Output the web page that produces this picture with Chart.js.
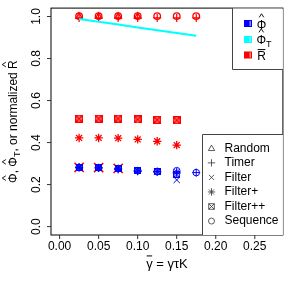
<!DOCTYPE html>
<html><head><meta charset="utf-8">
<script src="https://cdn.jsdelivr.net/npm/chart.js@4/dist/chart.umd.min.js"></script>
<style>html,body{margin:0;padding:0;background:#fff;overflow:hidden}</style>
</head><body>
<canvas id="c" width="291" height="283"></canvas>
<script>
// ---- data ----
const gammaBar = [0.025, 0.05, 0.075, 0.1, 0.125, 0.15, 0.175];
const xTicks = [0, 0.05, 0.10, 0.15, 0.20, 0.25];
const yTicks = [0, 0.2, 0.4, 0.6, 0.8, 1.0];
const xTickLabels = ["0.00", "0.05", "0.10", "0.15", "0.20", "0.25"];
const yTickLabels = ["0.0", "0.2", "0.4", "0.6", "0.8", "1.0"];
// normalized R-bar (red)
const rRandom      = [1.000, 1.000, 1.000, 1.000, null, null, null];
const rTimer       = [0.993, 0.993, 0.993, 0.993, 0.993, 0.993, 0.993];
const rFilter      = [0.282, 0.281, 0.277, null, null, null, null];
const rFilterP     = [0.422, 0.422, 0.421, 0.415, 0.406, 0.388, null];
const rFilterPP    = [0.514, 0.514, 0.514, 0.510, 0.508, 0.506, null];
const rSequence    = [1.002, 1.002, 1.002, 1.002, 1.002, 1.002, 1.002];
// Phi-hat (blue)
const pRandom      = [0.282, 0.280, 0.276, 0.265, null, null, null];
const pTimer       = [0.281, 0.279, 0.272, 0.263, 0.260, 0.255, 0.257];
const pFilter      = [0.282, 0.280, 0.276, null, null, 0.222, null];
const pFilterP     = [0.282, 0.280, 0.276, 0.265, 0.262, 0.260, null];
const pFilterPP    = [0.282, 0.280, 0.275, 0.265, 0.260, 0.250, null];
const pSequence    = [0.282, 0.280, 0.276, 0.266, 0.262, 0.266, 0.257];
// Phi-hat_T (cyan)
const pT           = [0.988, 0.975, 0.962, 0.948, 0.935, 0.921, 0.908];

const RED = '#ff0000', BLUE = '#0000ff', CYAN = '#00ffff';
const FONT = '"Liberation Sans", Arial, sans-serif';
const FS = 12;

function boxX(color, s, lw) {
  const c = document.createElement('canvas');
  c.width = s; c.height = s;
  const g = c.getContext('2d');
  g.strokeStyle = color; g.lineWidth = lw;
  g.strokeRect(lw/2, lw/2, s - lw, s - lw);
  g.beginPath();
  g.moveTo(0, 0); g.lineTo(s, s);
  g.moveTo(s, 0); g.lineTo(0, s);
  g.stroke();
  return c;
}

function ds(label, arr, color, style, radius, order, lw) {
  return {
    label,
    data: gammaBar.map((x, i) => arr[i] == null ? null : { x, y: arr[i] }).filter(Boolean),
    pointStyle: style, pointRadius: radius, pointHoverRadius: radius,
    borderColor: color, backgroundColor: 'rgba(0,0,0,0)',
    pointBorderWidth: lw || 1, borderWidth: lw || 1, showLine: false, order
  };
}

const datasets = [
  ds('R Filter', rFilter, RED, 'crossRot', 6.5, 9, 1.6),
  ds('R Filter+', rFilterP, RED, 'star', 4.2, 9, 1.3),
  ds('R Filter++', rFilterPP, RED, boxX(RED, 8, 1.6), 4, 9, 1),
  ds('R Random', rRandom, RED, 'triangle', 3.6, 9, 1.3),
  ds('R Timer', rTimer, RED, 'cross', 4, 9, 1.2),
  ds('R Sequence', rSequence, RED, 'circle', 3.3, 9, 1.3),
  { label: 'PhiT', data: gammaBar.map((x, i) => ({ x, y: pT[i] })), showLine: true,
    borderColor: CYAN, backgroundColor: CYAN, borderWidth: 2, pointRadius: 0, tension: 0, fill: false, order: 5 },
  ds('P Random', pRandom, BLUE, 'triangle', 3.5, 1, 1),
  ds('P Timer', pTimer, BLUE, 'cross', 4, 1, 1),
  ds('P Filter', pFilter, BLUE, 'crossRot', 4.5, 1, 1),
  ds('P Filter+', pFilterP, BLUE, 'star', 4, 1, 1),
  ds('P Filter++', pFilterPP, BLUE, boxX(BLUE, 7, 1), 3.5, 1, 1),
  ds('P Sequence', pSequence, BLUE, 'circle', 3.3, 1, 1),
];

function drawRich(ctx, segs, x, y, rot, size) {
  ctx.save();
  ctx.translate(x, y); ctx.rotate(rot);
  let total = 0;
  for (const s of segs) {
    ctx.font = (s.sub ? size * 0.75 : size) + 'px ' + FONT;
    s.w = ctx.measureText(s.t).width; total += s.w;
  }
  let cx = -total / 2;
  ctx.textBaseline = 'middle'; ctx.textAlign = 'left';
  for (const s of segs) {
    ctx.font = (s.sub ? size * 0.75 : size) + 'px ' + FONT;
    ctx.fillText(s.t, cx, s.sub ? size * 0.3 : 0);
    if (s.hat) {
      const m = cx + s.w / 2;
      ctx.beginPath(); ctx.lineWidth = 0.9;
      ctx.moveTo(m - 2.3, -size * 0.68); ctx.lineTo(m, -size * 0.98); ctx.lineTo(m + 2.3, -size * 0.68);
      ctx.stroke();
    }
    if (s.bar) {
      ctx.fillRect(cx + 0.5, -size * 0.66, s.w - 1, 1);
    }
    cx += s.w;
  }
  ctx.restore();
}

function sym(ctx, kind, x, y) {
  ctx.beginPath();
  const r = 3.2;
  if (kind === 'tri') { ctx.moveTo(x, y - r); ctx.lineTo(x + r, y + r * 0.7); ctx.lineTo(x - r, y + r * 0.7); ctx.closePath(); }
  if (kind === 'plus' || kind === 'star') { ctx.moveTo(x - r - 0.5, y); ctx.lineTo(x + r + 0.5, y); ctx.moveTo(x, y - r - 0.5); ctx.lineTo(x, y + r + 0.5); }
  if (kind === 'x' || kind === 'star') { ctx.moveTo(x - r * 0.8, y - r * 0.8); ctx.lineTo(x + r * 0.8, y + r * 0.8); ctx.moveTo(x + r * 0.8, y - r * 0.8); ctx.lineTo(x - r * 0.8, y + r * 0.8); }
  if (kind === 'boxx') { ctx.rect(x - 2.8, y - 2.8, 5.6, 5.6); ctx.moveTo(x - 2.8, y - 2.8); ctx.lineTo(x + 2.8, y + 2.8); ctx.moveTo(x + 2.8, y - 2.8); ctx.lineTo(x - 2.8, y + 2.8); }
  if (kind === 'circ') { ctx.arc(x, y, 3, 0, Math.PI * 2); }
  ctx.stroke();
}

const decor = {
  id: 'decor',
  afterDraw(chart) {
    const ctx = chart.ctx, a = chart.chartArea;
    const xs = chart.scales.x, ys = chart.scales.y;
    ctx.save();
    // plot box
    ctx.strokeStyle = '#000'; ctx.lineWidth = 1;
    ctx.strokeRect(a.left, a.top, a.right - a.left, a.bottom - a.top);
    // ticks
    ctx.strokeStyle = '#333';
    ctx.beginPath();
    xTicks.forEach(v => { const p = xs.getPixelForValue(v); ctx.moveTo(p, a.bottom); ctx.lineTo(p, a.bottom + 4); });
    yTicks.forEach(v => { const p = ys.getPixelForValue(v); ctx.moveTo(a.left, p); ctx.lineTo(a.left - 4, p); });
    ctx.stroke();
    ctx.fillStyle = '#000';
    ctx.font = FS + 'px ' + FONT;
    ctx.textAlign = 'center'; ctx.textBaseline = 'middle';
    xTicks.forEach((v, i) => ctx.fillText(xTickLabels[i], xs.getPixelForValue(v), 246.5));
    yTicks.forEach((v, i) => {
      ctx.save(); ctx.translate(36.5, ys.getPixelForValue(v)); ctx.rotate(-Math.PI / 2);
      ctx.fillText(yTickLabels[i], 0, 0); ctx.restore();
    });
    // axis titles
    ctx.strokeStyle = '#000';
    drawRich(ctx, [{ t: 'γ', bar: true }, { t: ' = γτK' }], (a.left + a.right) / 2, 264, 0, 13);
    drawRich(ctx, [{ t: 'Φ', hat: true }, { t: ', ' }, { t: 'Φ', hat: true }, { t: 'T', sub: true },
                   { t: ', or normalized ' }, { t: 'R', hat: true }], 14, (a.top + a.bottom) / 2, -Math.PI / 2, FS);
    // legend 1 (colours)
    ctx.fillStyle = '#fff';
    ctx.fillRect(232.5, a.top + 0.5, a.right - 232.5, 69.5 - a.top - 0.5);
    ctx.strokeStyle = '#444'; ctx.lineWidth = 1;
    ctx.beginPath(); ctx.moveTo(232.5, a.top); ctx.lineTo(232.5, 69.5); ctx.lineTo(a.right, 69.5); ctx.stroke();
    const l1 = [[BLUE, 23.5], [CYAN, 39.5], [RED, 55]];
    l1.forEach(([c, y]) => {
      ctx.fillStyle = c; ctx.fillRect(244, y - 3.5, 8, 7);
      ctx.fillStyle = 'rgba(255,255,255,0.55)'; ctx.fillRect(249.5, y - 2.5, 1.5, 5);
    });
    ctx.fillStyle = '#000'; ctx.strokeStyle = '#000';
    ctx.textAlign = 'left';
    drawRich(ctx, [{ t: 'Φ', hat: true }], 261.5, 25.5, 0, FS);
    drawRich(ctx, [{ t: 'Φ', hat: true }, { t: 'T', sub: true }], 264, 40.5, 0, FS);
    drawRich(ctx, [{ t: 'R', bar: true }], 261.5, 57, 0, FS);
    // legend 2 (methods)
    ctx.fillStyle = '#fff';
    ctx.fillRect(203, 135, a.right - 203, a.bottom - 135);
    ctx.strokeStyle = '#444';
    ctx.beginPath(); ctx.moveTo(202.5, a.bottom); ctx.lineTo(202.5, 134.5); ctx.lineTo(a.right, 134.5); ctx.stroke();
    const names = ['Random', 'Timer', 'Filter', 'Filter+', 'Filter++', 'Sequence'];
    const kinds = ['tri', 'plus', 'x', 'star', 'boxx', 'circ'];
    ctx.font = FS + 'px ' + FONT; ctx.textAlign = 'left'; ctx.textBaseline = 'middle';
    names.forEach((n, i) => {
      const y = 148.3 + i * 14.55;
      ctx.strokeStyle = '#333'; ctx.lineWidth = 0.8;
      sym(ctx, kinds[i], 211.5, y);
      ctx.fillStyle = '#000';
      ctx.fillText(n, 224.5, y);
    });
    ctx.restore();
  }
};

new Chart(document.getElementById('c'), {
  type: 'scatter',
  data: { datasets },
  options: {
    responsive: false, animation: false, devicePixelRatio: 1,
    layout: { padding: { left: 51, top: 7, right: 8, bottom: 48 } },
    plugins: { legend: { display: false }, tooltip: { enabled: false } },
    scales: {
      x: { type: 'linear', min: -0.011, max: 0.286, display: false },
      y: { type: 'linear', min: -0.04, max: 1.04, display: false }
    }
  },
  plugins: [decor]
});
</script>
</body></html>
